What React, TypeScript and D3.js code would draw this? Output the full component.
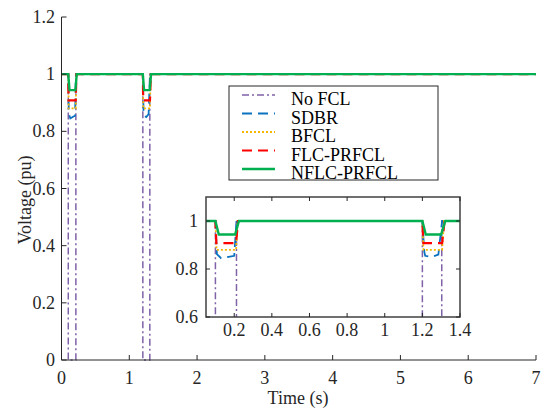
import React from "react";
import * as d3 from "d3";

type P = [number, number];

const seriesNames = ["No FCL", "SDBR", "BFCL", "FLC-PRFCL", "NFLC-PRFCL"];
const seriesColors = ["#7f62a8", "#0b72c0", "#f5b800", "#ff0000", "#00b050"];
const seriesDash = ["7,3,2,3", "10,6", "2,2", "10,6", ""];
const seriesWidth = [1.5, 1.8, 1.8, 2.2, 2.4];

const noFcl: P[] = [[0, 1], [0.1, 1], [0.1, 0], [0.212, 0], [0.212, 1], [1.2, 1], [1.2, 0], [1.303, 0], [1.303, 1], [7, 1]];
const sdbr: P[] = [[0, 1], [0.1, 1], [0.108, 0.862], [0.13, 0.845], [0.17, 0.851], [0.2, 0.855], [0.212, 1], [1.2, 1], [1.21, 0.872], [1.215, 0.855], [1.25, 0.85], [1.285, 0.86], [1.305, 1], [7, 1]];
const bfcl: P[] = [[0, 1], [0.1, 1], [0.106, 0.88], [0.21, 0.88], [0.218, 1], [1.2, 1], [1.206, 0.88], [1.305, 0.88], [1.315, 1], [7, 1]];
const flcPrfcl: P[] = [[0, 1], [0.1, 1], [0.105, 0.908], [0.21, 0.908], [0.22, 1], [1.2, 1], [1.205, 0.908], [1.305, 0.908], [1.318, 1], [7, 1]];
const nflcPrfcl: P[] = [[0, 1], [0.1, 1], [0.118, 0.944], [0.205, 0.944], [0.225, 1], [1.2, 1], [1.218, 0.944], [1.3, 0.944], [1.322, 1], [7, 1]];
const allSeries = [noFcl, sdbr, bfcl, flcPrfcl, nflcPrfcl];

const xTicks = [0, 1, 2, 3, 4, 5, 6, 7];
const yTicks = [0, 0.2, 0.4, 0.6, 0.8, 1, 1.2];
const insetXTicks = [0.2, 0.4, 0.6, 0.8, 1, 1.2, 1.4];
const insetYTicks = [0.6, 0.8, 1];

const FONT = "Liberation Serif, Times New Roman, DejaVu Serif, serif";
const AX = "#262626";
const ts = { fontFamily: FONT, fontSize: "18px" };

export default function App() {
  const W = 552, H = 411;
  const x = d3.scaleLinear().domain([0, 7]).range([61.5, 536]);
  const y = d3.scaleLinear().domain([0, 1.2]).range([360, 17]);
  const ix = d3.scaleLinear().domain([0.05, 1.4]).range([206, 460]);
  const iy = d3.scaleLinear().domain([0.6, 1.1]).range([317, 197]);

  const line = d3.line<P>().x(d => x(d[0])).y(d => y(d[1]));
  const iline = d3.line<P>().x(d => ix(d[0])).y(d => iy(d[1]));

  const fmt = (v: number) => String(+v.toFixed(1));

  return (
    <svg width={W} height={H} style={{ position: "absolute", left: 0, top: 0, background: "#fff", fontFamily: FONT }}>
      <defs>
        <clipPath id="mainclip"><rect x={61.5} y={10} width={480} height={351} /></clipPath>
        <clipPath id="insetclip"><rect x={206} y={197} width={254} height={120} /></clipPath>
      </defs>
      <rect width={W} height={H} fill="#fff" />
      <g clipPath="url(#mainclip)">
        {allSeries.map((s, i) => (
          <path key={i} d={line(s) || ""} fill="none" stroke={seriesColors[i]} strokeWidth={seriesWidth[i]} strokeDasharray={seriesDash[i]} />
        ))}
      </g>
      {/* main axes */}
      <line x1={61.5} x2={536} y1={360} y2={360} stroke={AX} strokeWidth={1} />
      <line x1={61.5} x2={61.5} y1={17} y2={360} stroke={AX} strokeWidth={1} />
      {xTicks.map(t => (
        <g key={"x" + t}>
          <line x1={x(t)} x2={x(t)} y1={360} y2={355} stroke={AX} />
          <text x={x(t)} y={384} style={ts} textAnchor="middle" fill={AX}>{fmt(t)}</text>
        </g>
      ))}
      {yTicks.map(t => (
        <g key={"y" + t}>
          <line x1={61.5} x2={66.5} y1={y(t)} y2={y(t)} stroke={AX} />
          <text x={55} y={y(t) + 6} style={ts} textAnchor="end" fill={AX}>{fmt(t)}</text>
        </g>
      ))}
      <text x={298} y={404} style={ts} textAnchor="middle" fill={AX}>Time (s)</text>
      <text transform="translate(31,200) rotate(-90)" style={ts} textAnchor="middle" fill={AX}>Voltage (pu)</text>

      {/* legend */}
      <rect x={229} y={86} width={209} height={94} fill="#fff" stroke={AX} strokeWidth={1} />
      {seriesNames.map((n, i) => {
        const ly = 95 + i * 18.5;
        return (
          <g key={n}>
            <line x1={242} x2={275} y1={ly} y2={ly} stroke={seriesColors[i]} strokeWidth={seriesWidth[i]} strokeDasharray={seriesDash[i]} />
            <text x={291} y={ly + 10} style={ts} fill="#000">{n}</text>
          </g>
        );
      })}

      {/* inset */}
      <rect x={206} y={197} width={254} height={120} fill="#fff" />
      <g clipPath="url(#insetclip)">
        {allSeries.map((s, i) => (
          <path key={i} d={iline(s) || ""} fill="none" stroke={seriesColors[i]} strokeWidth={seriesWidth[i]} strokeDasharray={seriesDash[i]} />
        ))}
      </g>
      <rect x={206} y={197} width={254} height={120} fill="none" stroke="#404040" strokeWidth={1.5} />
      {insetXTicks.map(t => (
        <g key={"ix" + t}>
          <line x1={ix(t)} x2={ix(t)} y1={317} y2={313} stroke={AX} />
          <line x1={ix(t)} x2={ix(t)} y1={197} y2={201} stroke={AX} />
          <text x={ix(t)} y={336} style={ts} textAnchor="middle" fill={AX}>{fmt(t)}</text>
        </g>
      ))}
      {insetYTicks.map(t => (
        <g key={"iy" + t}>
          <line x1={206} x2={210} y1={iy(t)} y2={iy(t)} stroke={AX} />
          <line x1={460} x2={456} y1={iy(t)} y2={iy(t)} stroke={AX} />
          <text x={198} y={iy(t) + 6} style={ts} textAnchor="end" fill={AX}>{fmt(t)}</text>
        </g>
      ))}
    </svg>
  );
}
